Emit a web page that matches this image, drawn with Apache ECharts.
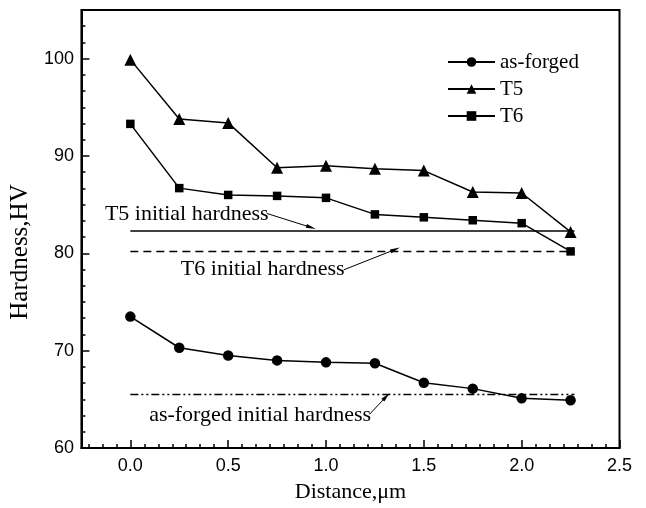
<!DOCTYPE html>
<html><head><meta charset="utf-8">
<script src="https://cdn.jsdelivr.net/npm/echarts@6/dist/echarts.min.js"></script>
<style>html,body{margin:0;padding:0;background:#fff}#c{width:646px;height:508px}</style>
</head><body><div id="c"></div>
<script>
const distance = [0, 0.25, 0.5, 0.75, 1.0, 1.25, 1.5, 1.75, 2.0, 2.25];
const asForged = [73.5, 70.3, 69.5, 69.0, 68.8, 68.7, 66.7, 66.1, 65.1, 64.9];
const t5 = [99.9, 93.8, 93.4, 88.8, 89.0, 88.7, 88.5, 86.3, 86.2, 82.2];
const t6 = [93.3, 86.7, 86.0, 85.9, 85.7, 84.0, 83.7, 83.4, 83.1, 80.2];
const seriesNames = ['as-forged', 'T5', 'T6'];
const initialNames = ['T5 initial hardness', 'T6 initial hardness', 'as-forged initial hardness'];
const initialValues = [82.3, 80.2, 65.5];
const initialSpan = [0, 2.27];
const xTickLabels = [0.0, 0.5, 1.0, 1.5, 2.0, 2.5];
const yTickLabels = [60, 70, 80, 90, 100];

const xMinor = [];
for (let k = -3; k <= 35; k++) { const v = k * 0.5 / 7; if (k % 7 !== 0) xMinor.push(+v.toFixed(5)); }
const yMinor = [];
for (let k = 0; k <= 27; k++) { const v = 60 + k * 10 / 6; if (k % 6 !== 0) yMinor.push(+v.toFixed(5)); }

const serif = 'Liberation Serif';
const sans = 'Liberation Sans';
const black = '#000';

function pts(ys) { return distance.map((d, i) => [d, ys[i]]); }

const mainStyles = [
  { symbol: 'circle', size: 10.5 },
  { symbol: 'triangle', size: 12 },
  { symbol: 'rect', size: 8.5 }
];
const mainData = [asForged, t5, t6];

const refStyles = [
  { type: 'solid' },
  { type: [8, 5] },
  { type: [8, 3, 2, 3, 2, 3] }
];
const annotations = [
  { text: [-0.13, 84.0], from: [0.697, 84.1], to: [0.924, 82.66] },
  { text: [0.258, 78.4], from: [1.09, 78.3], to: [1.354, 80.4] },
  { text: [0.096, 63.35], from: [1.222, 63.46], to: [1.308, 65.28] }
];

const series = [];
mainData.forEach((ys, i) => {
  series.push({
    name: seriesNames[i], type: 'line', xAxisIndex: 0, yAxisIndex: 0,
    data: pts(ys), symbol: mainStyles[i].symbol, symbolSize: mainStyles[i].size,
    lineStyle: { color: black, width: 1.5 }, itemStyle: { color: black },
    z: 5, silent: true
  });
});
initialValues.forEach((v, i) => {
  const a = annotations[i];
  series.push({
    name: initialNames[i], type: 'line', xAxisIndex: 0, yAxisIndex: 0,
    data: [[initialSpan[0], v], [initialSpan[1], v]], symbol: 'none',
    lineStyle: { color: black, width: 1.5, type: refStyles[i].type },
    z: 3, silent: true,
    markLine: {
      silent: true, symbol: ['none', 'path://M5,0 L10,20 L0,20 Z'], symbolSize: [4, 10],
      itemStyle: { color: black },
      lineStyle: { color: black, width: 1, type: 'solid' }, label: { show: false },
      data: [[{ coord: a.from }, { coord: a.to }]]
    },
    markPoint: {
      silent: true,
      data: [{
        coord: a.text, symbol: 'rect', symbolSize: 0,
        label: { show: true, position: 'right', distance: 0, formatter: initialNames[i],
          fontFamily: serif, fontSize: 22, color: black }
      }]
    }
  });
});

const chart = echarts.init(document.getElementById('c'), null, { renderer: 'canvas' });
chart.setOption({
  animation: false,
  backgroundColor: '#fff',
  grid: { left: 74.5, right: 26.5, top: 10, bottom: 56, show: true, borderColor: black, borderWidth: 2 },
  legend: {
    data: seriesNames, orient: 'vertical', left: 447, top: 51, padding: 0,
    itemWidth: 47, itemHeight: 12, itemGap: 5,
    textStyle: { fontFamily: serif, fontSize: 21, color: black, lineHeight: 22 }
  },
  xAxis: [
    {
      type: 'value', min: -0.25, max: 2.5, position: 'bottom',
      axisLine: { onZero: false, lineStyle: { color: black, width: 2 } },
      axisTick: { customValues: xTickLabels, inside: true, length: 8, lineStyle: { color: black, width: 1.5 } },
      axisLabel: { customValues: xTickLabels, formatter: v => Number(v).toFixed(1), color: black, fontFamily: sans, fontSize: 18, margin: 9 },
      splitLine: { show: false },
      name: 'Distance,μm', nameLocation: 'middle', nameGap: 33,
      nameTextStyle: { fontFamily: serif, fontSize: 22, color: black }
    },
    {
      type: 'value', min: -0.25, max: 2.5, position: 'bottom',
      axisLine: { show: false, onZero: false },
      axisTick: { customValues: xMinor, inside: true, length: 4, lineStyle: { color: black, width: 1.5 } },
      axisLabel: { show: false }, splitLine: { show: false }
    }
  ],
  yAxis: [
    {
      type: 'value', min: 60, max: 105, position: 'left',
      axisLine: { show: true, onZero: false, lineStyle: { color: black, width: 2 } },
      axisTick: { show: true, customValues: yTickLabels, inside: true, length: 8, lineStyle: { color: black, width: 1.5 } },
      axisLabel: { customValues: yTickLabels, color: black, fontFamily: sans, fontSize: 18, margin: 7.5 },
      splitLine: { show: false },
      name: 'Hardness,HV', nameLocation: 'middle', nameGap: 34,
      nameTextStyle: { fontFamily: serif, fontSize: 25, color: black, padding: [0, 46, 0, 0] }
    },
    {
      type: 'value', min: 60, max: 105, position: 'left',
      axisLine: { show: false, onZero: false },
      axisTick: { show: true, customValues: yMinor, inside: true, length: 4, lineStyle: { color: black, width: 1.5 } },
      axisLabel: { show: false }, splitLine: { show: false }
    }
  ],
  series: series
});
</script>
</body></html>
